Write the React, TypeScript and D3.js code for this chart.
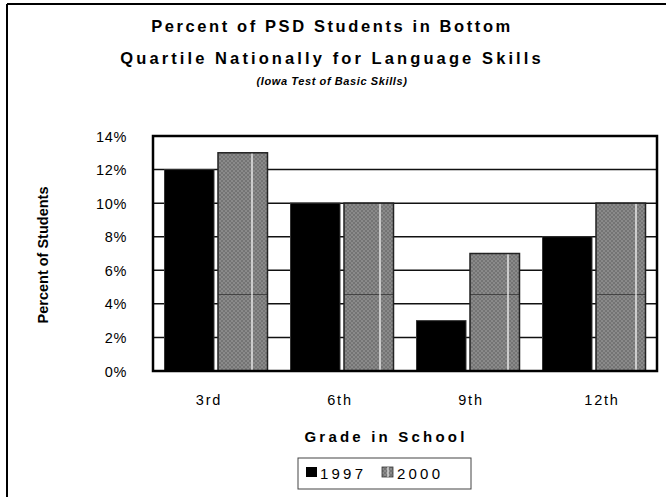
import React from "react";
import * as d3 from "d3";

const categories = ["3rd", "6th", "9th", "12th"];
const seriesNames = ["1997", "2000"];
const values1997 = [12, 10, 3, 8];
const values2000 = [13, 10, 7, 10];
const yTicks = [0, 2, 4, 6, 8, 10, 12, 14];

const W = 666;
const H = 497;

export default function App() {
  const left = 153, right = 657, top = 136, bottom = 371;
  const x0 = d3.scaleBand<string>().domain(categories).range([left, right]).padding(0);
  const bw = x0.bandwidth();
  const outer = (bw - 103) / 2;
  const x1 = d3
    .scaleBand<string>()
    .domain(seriesNames)
    .range([outer, bw - outer])
    .paddingInner(4 / 53.5)
    .paddingOuter(0);
  const xLabel = d3.scalePoint<string>().domain(categories).range([209, 602]);
  const y = d3.scaleLinear().domain([0, 14]).range([bottom, top]);
  const font = "Arial, 'Liberation Sans', sans-serif";

  return (
    <svg
      width={W}
      height={H}
      style={{ position: "absolute", left: 0, top: 0, background: "#fff" }}
      fontFamily={font}
    >
      <defs>
        <pattern id="checker" width="4" height="4" patternUnits="userSpaceOnUse">
          <rect width="4" height="4" fill="#8a8a8a" />
          <rect width="2" height="2" fill="#747474" />
          <rect x="2" y="2" width="2" height="2" fill="#747474" />
        </pattern>
        <clipPath id="grayclip">
          {categories.map((c, i) => (
            <rect
              key={c}
              x={(x0(c) ?? 0) + (x1("2000") ?? 0)}
              y={y(values2000[i])}
              width={x1.bandwidth()}
              height={bottom - y(values2000[i])}
            />
          ))}
        </clipPath>
      </defs>
      <rect width={W} height={H} fill="#fff" />
      {/* outer frame */}
      <line x1={7} y1={4} x2={W} y2={4} stroke="#000" strokeWidth={2} />
      <line x1={7} y1={4} x2={7} y2={H} stroke="#000" strokeWidth={2} />

      {/* titles */}
      <text x={332} y={32} textAnchor="middle" fontSize={16.5} fontWeight="bold" letterSpacing={2.6}>
        Percent of PSD Students in Bottom
      </text>
      <text x={332} y={64} textAnchor="middle" fontSize={16.5} fontWeight="bold" letterSpacing={3.1}>
        Quartile Nationally for Language Skills
      </text>
      <text x={332} y={85} textAnchor="middle" fontSize={11} fontWeight="bold" fontStyle="italic" letterSpacing={0.6}>
        (Iowa Test of Basic Skills)
      </text>

      {/* gridlines */}
      {yTicks.map((t) => (
        <line key={t} x1={left} x2={right} y1={y(t)} y2={y(t)} stroke="#111" strokeWidth={1.5} />
      ))}

      {/* bars */}
      {categories.map((c, i) => (
        <g key={c} transform={`translate(${x0(c)},0)`}>
          <rect
            x={x1("1997")}
            y={y(values1997[i])}
            width={x1.bandwidth()}
            height={bottom - y(values1997[i])}
            fill="#000"
            stroke="#333"
            strokeWidth={1}
          />
          <rect
            x={x1("2000")}
            y={y(values2000[i])}
            width={x1.bandwidth()}
            height={bottom - y(values2000[i])}
            fill="url(#checker)"
          />
        </g>
      ))}
      {/* pattern artifacts in gray bars */}
      <g clipPath="url(#grayclip)">
        <line x1={left} x2={right} y1={294.5} y2={294.5} stroke="#444" strokeWidth={1} />
        {[252, 380, 508, 636].map((px) => (
          <line key={px} x1={px} x2={px} y1={top} y2={bottom} stroke="#fff" strokeWidth={1.2} />
        ))}
      </g>
      {categories.map((c, i) => (
        <rect
          key={c}
          x={(x0(c) ?? 0) + (x1("2000") ?? 0)}
          y={y(values2000[i])}
          width={x1.bandwidth()}
          height={bottom - y(values2000[i])}
          fill="none"
          stroke="#222"
          strokeWidth={1.5}
        />
      ))}

      {/* plot frame */}
      <rect x={left} y={top} width={right - left} height={bottom - top} fill="none" stroke="#000" strokeWidth={2.5} />

      {/* y tick labels */}
      {yTicks.map((t) => (
        <text key={t} x={127} y={y(t) + 5.5} textAnchor="end" fontSize={14.5} letterSpacing={0.7}>
          {`${t}%`}
        </text>
      ))}
      {/* x tick labels */}
      {categories.map((c) => (
        <text key={c} x={xLabel(c)} y={405} textAnchor="middle" fontSize={14.5} letterSpacing={1.8}>
          {c}
        </text>
      ))}

      {/* axis titles */}
      <text
        transform={`translate(48,255) rotate(-90)`}
        textAnchor="middle"
        fontSize={14.5}
        fontWeight="bold"
      >
        Percent of Students
      </text>
      <text x={386} y={442} textAnchor="middle" fontSize={15} fontWeight="bold" letterSpacing={3.2}>
        Grade in School
      </text>

      {/* legend */}
      <rect x={298} y={458} width={173} height={31} fill="#fff" stroke="#444" strokeWidth={1} />
      <rect x={306} y={467} width={11} height={10} fill="#000" />
      <text x={320} y={479} fontSize={15} letterSpacing={3.2}>
        {seriesNames[0]}
      </text>
      <rect x={382} y={467} width={11} height={10} fill="url(#checker)" stroke="#333" strokeWidth={0.8} />
      <line x1={388} x2={388} y1={467} y2={477} stroke="#fff" strokeWidth={1} />
      <text x={397} y={479} fontSize={15} letterSpacing={3.2}>
        {seriesNames[1]}
      </text>
    </svg>
  );
}
